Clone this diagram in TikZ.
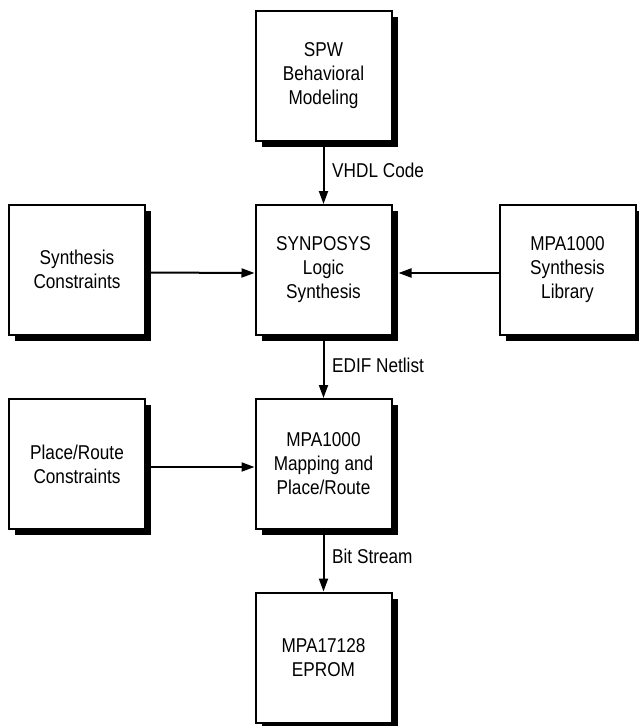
\documentclass[tikz,border=0pt]{standalone}
\usepackage{fontspec}
\setmainfont[FakeStretch=0.86]{Liberation Sans}
\usetikzlibrary{arrows.meta,shadows}
\begin{document}
\begin{tikzpicture}[x=1pt,y=1pt,
  blk/.style={draw=black,line width=2pt,fill=white,minimum width=136pt,minimum height=130pt,
    align=center,inner sep=2pt,font=\fontsize{20pt}{24pt}\selectfont,
    drop shadow={shadow xshift=6pt,shadow yshift=-6pt,fill=black,opacity=1}},
  arr/.style={line width=2pt,-{Triangle[length=13pt,width=9pt]}},
  lbl/.style={anchor=west,inner sep=0pt,font=\fontsize{20pt}{24pt}\selectfont}]
\useasboundingbox (0,0) rectangle (639,-726);
\node[blk] (spw) at (323.5,-75.5) {SPW\\Behavioral\\Modeling};
\node[blk] (syn) at (323.5,-270) {SYNPOSYS\\Logic\\Synthesis};
\node[blk] (map) at (323.5,-464) {MPA1000\\Mapping and\\Place/Route};
\node[blk] (eprom) at (323.5,-657.5) {MPA17128\\EPROM};
\node[blk] (sc) at (77,-269.5) {Synthesis\\Constraints};
\node[blk] (prc) at (77,-464) {Place/Route\\Constraints};
\node[blk] (lib) at (567.5,-270) {MPA1000\\Synthesis\\Library};
\draw[arr] (spw.south) -- (syn.north);
\draw[arr] (syn.south) -- (map.north);
\draw[arr] (map.south) -- (eprom.north);
\draw[arr] ([yshift=-3pt]sc.east) -- ([yshift=-3pt]syn.west);
\draw[arr] ([yshift=-3pt]lib.west) -- ([xshift=6pt,yshift=-3pt]syn.east);
\draw[arr] ([yshift=-3pt]prc.east) -- ([yshift=-3pt]map.west);
\node[lbl] (l1) at (332,-170) {VHDL Code};
\node[lbl] (l2) at (332,-365) {EDIF Netlist};
\node[lbl] (l3) at (332,-556) {Bit Stream};
\end{tikzpicture}
\end{document}
